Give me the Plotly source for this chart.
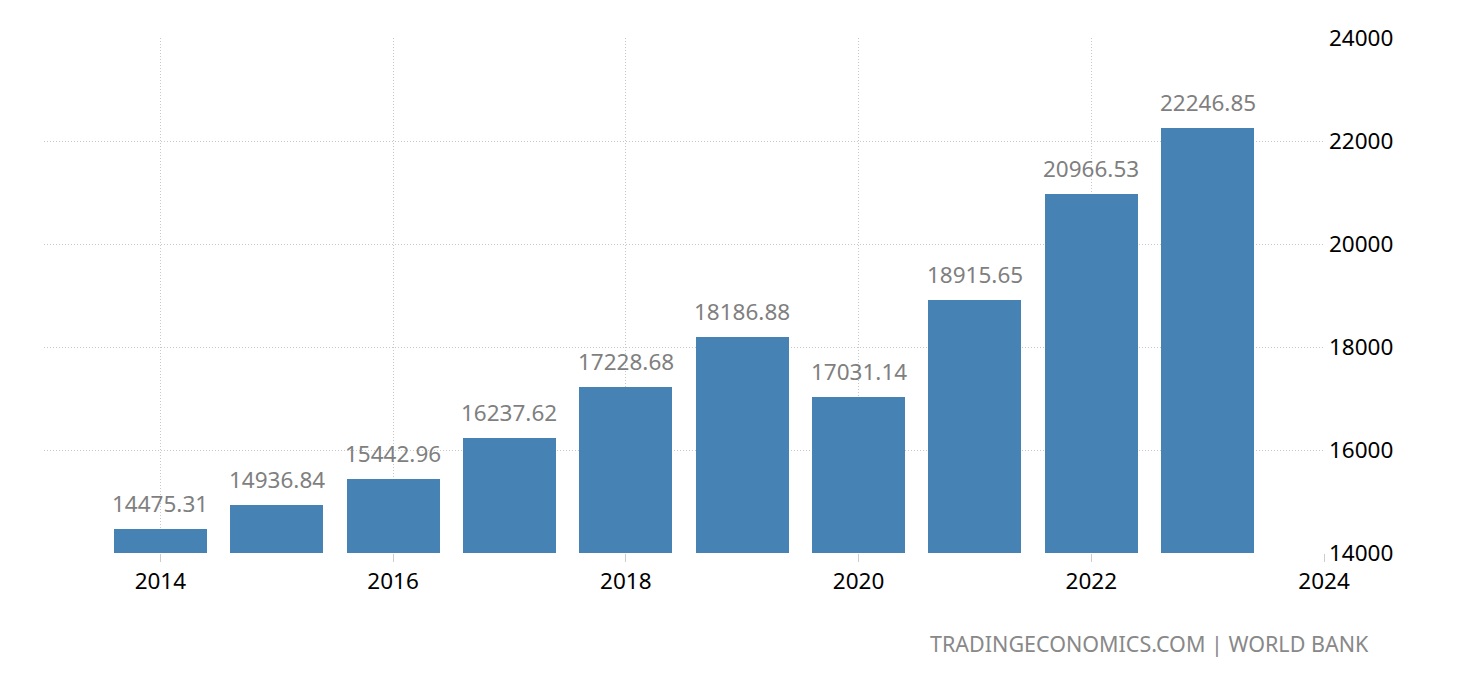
import plotly.graph_objects as go

years = [2014, 2015, 2016, 2017, 2018, 2019, 2020, 2021, 2022, 2023]
values = [14475.31, 14936.84, 15442.96, 16237.62, 17228.68, 18186.88, 17031.14, 18915.65, 20966.53, 22246.85]
x_ticks = [2014, 2016, 2018, 2020, 2022, 2024]
y_ticks = [14000, 16000, 18000, 20000, 22000, 24000]

FONT = "Noto Sans"
FS = 22.5

fig = go.Figure()
fig.add_trace(go.Bar(x=years, y=values, width=0.8, marker=dict(color="#4682B4", line=dict(width=0)),
                     hoverinfo="x+y"))

for yr, v in zip(years, values):
    fig.add_annotation(x=yr, y=v, text=f"{v:.2f}", showarrow=False, yanchor="bottom", yshift=8,
                       font=dict(family=FONT, size=FS, color="#7f7f7f"))

fig.add_annotation(xref="paper", yref="paper", x=1.037, y=-0.175, xanchor="right", yanchor="middle",
                   text="TRADINGECONOMICS.COM | WORLD BANK", showarrow=False,
                   font=dict(family=FONT, size=21.5, color="#888888"))

fig.update_layout(
    width=1460, height=680,
    margin=dict(l=44, r=136, t=38, b=127),
    plot_bgcolor="white", paper_bgcolor="white",
    showlegend=False, bargap=0,
    font=dict(family=FONT, size=FS, color="black"),
    xaxis=dict(range=[2013.0, 2024], tickvals=x_ticks, ticktext=[str(t) for t in x_ticks],
               showgrid=True, gridcolor="#c8c8c8", griddash="1px,2px", gridwidth=1,
               ticks="outside", ticklen=8, tickcolor="#cccccc", showline=False, zeroline=False,
               tickfont=dict(family=FONT, size=FS, color="black")),
    yaxis=dict(range=[14000, 24000], tickvals=y_ticks, ticktext=[str(t) for t in y_ticks], side="right",
               showgrid=True, gridcolor="#c8c8c8", griddash="1px,2px", gridwidth=1,
               zeroline=False, showline=False, ticks="", ticklabelstandoff=4,
               tickfont=dict(family=FONT, size=FS, color="black")),
)

fig.write_html("out.html")
